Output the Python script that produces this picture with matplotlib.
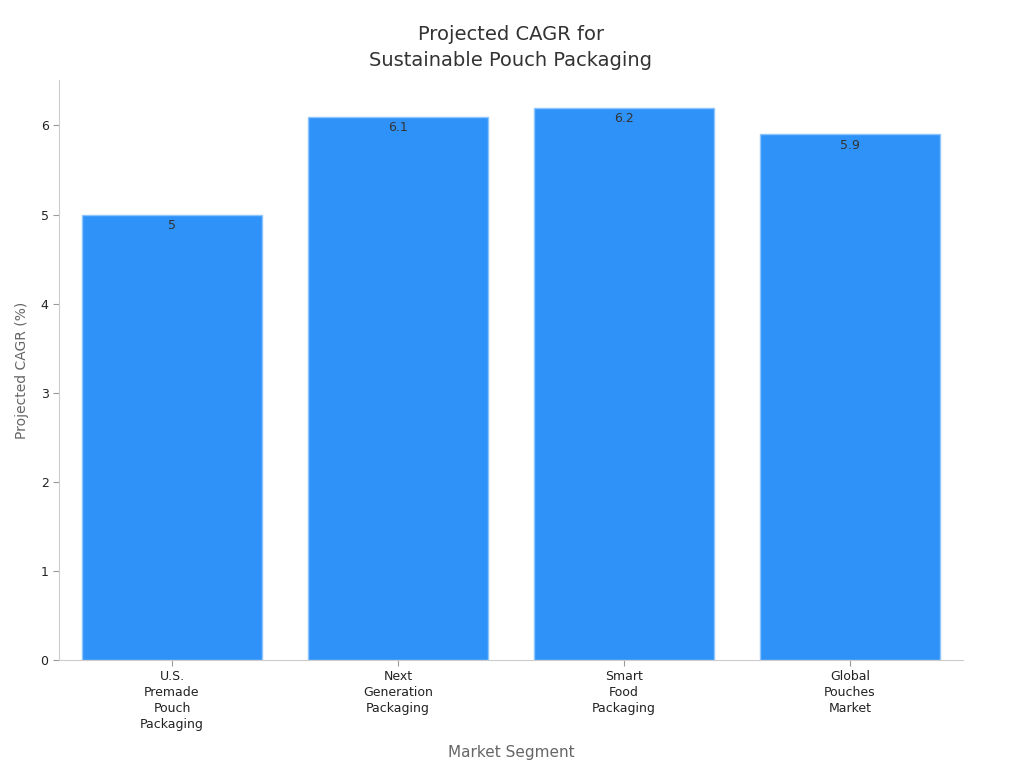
import matplotlib.pyplot as plt

# data
segments = ["U.S.\nPremade\nPouch\nPackaging", "Next\nGeneration\nPackaging",
            "Smart\nFood\nPackaging", "Global\nPouches\nMarket"]
cagr = [5, 6.1, 6.2, 5.9]
value_labels = ["5", "6.1", "6.2", "5.9"]

fig = plt.figure(figsize=(10.24, 7.68), dpi=100)
ax = fig.add_axes([0.0576, 0.1406, 0.8828, 0.7552])

x = range(len(segments))
bars = ax.bar(x, cagr, width=0.8, color="#2f92f8", edgecolor="#8cc4fb", linewidth=1)

for b, lab in zip(bars, value_labels):
    ax.text(b.get_x() + b.get_width() / 2, b.get_height() - 0.05, lab,
            ha="center", va="top", fontsize=9, color="#333333")

ax.set_xlim(-0.5, 3.5)
ax.set_ylim(0, 6.51)
ax.set_xticks(list(x))
ax.set_xticklabels(segments, fontsize=9, color="#222222", linespacing=1.3)
ax.tick_params(axis="y", labelsize=9, colors="#222222")
ax.tick_params(axis="both", color="#999999", length=4)
ax.tick_params(axis="x", pad=3)
for s in ["top", "right"]:
    ax.spines[s].set_visible(False)
for s in ["left", "bottom"]:
    ax.spines[s].set_color("#cccccc")

ax.set_xlabel("Market Segment", fontsize=11, color="#666666", labelpad=10)
ax.set_ylabel("Projected CAGR (%)", fontsize=10, color="#666666", labelpad=8)
ax.set_title("Projected CAGR for\nSustainable Pouch Packaging", fontsize=14,
             color="#333333", pad=10, linespacing=1.45)

fig.savefig("out.png", dpi=100)
